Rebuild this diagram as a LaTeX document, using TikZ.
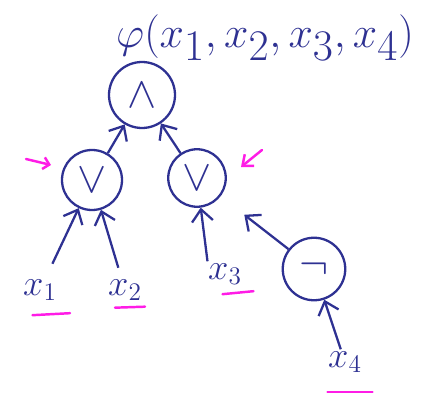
\documentclass[tikz,border=0pt]{standalone}
\usetikzlibrary{arrows.meta}

\definecolor{ink}{HTML}{2E3192}
\definecolor{pen}{HTML}{FF1CE6}

\begin{document}
\begin{tikzpicture}[
  >={Straight Barb[length=2.4mm,width=4.2mm]},
  gate/.style={circle,draw=ink,line width=1.3pt,inner sep=0pt,text=ink,font=\fontsize{32}{32}\selectfont},
  var/.style={text=ink,font=\fontsize{22}{24}\selectfont},
  arc/.style={->,draw=ink,line width=1.3pt},
  hl/.style={draw=pen,line width=1.4pt,line cap=round},
  every node/.style={inner sep=1pt}
]
\useasboundingbox (0,0) rectangle (8.66,7.88);
\node[var,font=\fontsize{33}{35}\selectfont] (f) at (5.3,7.12) {$\varphi(x_1,x_2,x_3,x_4)$};
\node[gate,minimum size=1.32cm] (and) at (2.84,5.98) {$\wedge$};
\node[gate,minimum size=1.2cm] (or1) at (1.84,4.28) {$\vee$};
\node[gate,minimum size=1.15cm] (or2) at (3.94,4.32) {$\vee$};
\node[gate,minimum size=1.25cm] (not) at (6.28,2.5) {$\neg$};
\node[var] (x1) at (0.8,2.08) {$x_1$};
\node[var] (x2) at (2.5,2.08) {$x_2$};
\node[var] (x3) at (4.5,2.4) {$x_3$};
\node[var] (x4) at (6.9,0.64) {$x_4$};
\draw[arc] (or1) -- (and);
\draw[arc] (or2) -- (and);
\draw[arc,shorten <=0.3cm] (x1) -- (or1);
\draw[arc,shorten <=0.2cm] (x2) -- (or1);
\draw[arc] ([xshift=-0.35cm]x3.north) -- (or2);
\draw[arc,shorten >=0.6cm] (not) -- (or2);
\draw[arc] (x4) -- (not);
% underlines
\draw[hl] ([shift={(-0.15,-0.25)}]x1.south) -- ++(0.75,0.04);
\draw[hl] ([shift={(-0.2,-0.1)}]x2.south) -- ++(0.6,0.02);
\draw[hl] ([shift={(-0.05,-0.15)}]x3.south) -- ++(0.62,0.06);
\draw[hl] ([shift={(-0.35,-0.35)}]x4.south) -- ++(0.9,0);
% marks
\draw[->,hl,>={Straight Barb[length=1.2mm,width=2.4mm]}] (0.52,4.7) -- (1.02,4.58);
\draw[->,hl,>={Straight Barb[length=1.8mm,width=3mm]}] (5.24,4.88) -- (4.82,4.54);
\end{tikzpicture}
\end{document}
